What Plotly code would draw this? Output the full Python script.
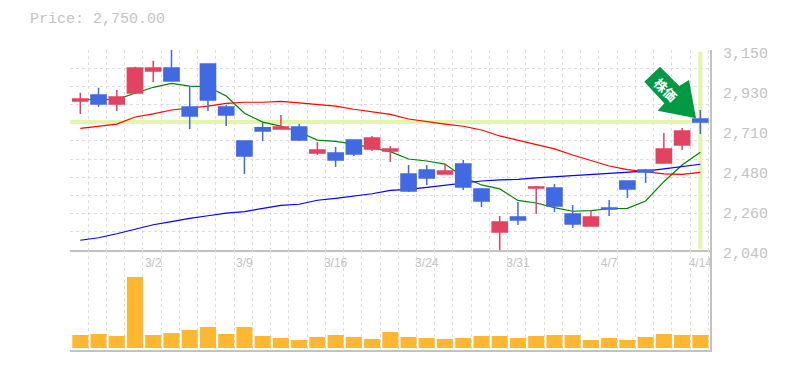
import plotly.graph_objects as go

dates = ["2/25","2/26","2/27","2/28","3/2","3/3","3/4","3/5","3/6","3/9","3/10","3/11","3/12","3/13","3/16",
         "3/17","3/18","3/19","3/23","3/24","3/25","3/26","3/27","3/30","3/31","4/1","4/2","4/3","4/6","4/7",
         "4/8","4/9","4/10","4/13","4/14"]
opens = [2867,2900,2850,2911,3033,3050,2834,3072,2834,2645,2719,2712,2723,2578,2578,2650,2600,2589,2462,2484,
         2462,2517,2379,2140,2223,2384,2384,2240,2173,2273,2423,2484,2523,2623,2767]
highs = [2913,2941,2928,3057,3091,3160,2950,3072,2845,2645,2745,2789,2739,2639,2612,2650,2673,2617,2512,2512,
         2517,2540,2384,2229,2306,2395,2406,2290,2262,2317,2423,2490,2689,2717,2817]
lows = [2795,2834,2811,2911,2972,2978,2712,2811,2728,2462,2645,2712,2645,2567,2501,2562,2589,2528,2362,2401,
        2462,2373,2279,2036,2179,2240,2251,2162,2173,2229,2329,2412,2523,2595,2684]
closes = [2878,2850,2889,3050,3050,2978,2784,2872,2789,2562,2700,2723,2650,2595,2540,2573,2662,2600,2367,2440,
          2478,2390,2312,2195,2206,2390,2284,2184,2223,2268,2379,2473,2600,2700,2750]
ma_short = [2874,2876,2876,2910,2943,2965,2950,2946,2895,2799,2750,2728,2695,2650,2643,2628,2608,2586,2545,2534,
            2517,2445,2401,2379,2315,2301,2275,2255,2258,2269,2271,2312,2419,2512,2582]
ma_mid = [2715,2728,2739,2778,2795,2817,2826,2839,2854,2860,2860,2865,2856,2849,2839,2821,2806,2793,2767,2752,
          2739,2727,2706,2673,2649,2623,2601,2567,2536,2506,2486,2473,2463,2460,2471]
ma_long = [2094,2108,2130,2155,2180,2197,2216,2230,2245,2253,2271,2288,2294,2316,2327,2341,2352,2371,2377,2388,
           2401,2410,2423,2429,2432,2440,2447,2452,2460,2466,2471,2478,2490,2505,2516]
volumes = [13,14,12,71,13,15,18,21,14,21,12,10,8,11,13,11,9,16,11,10,9,10,12,12,10,12,13,13,8,10,8,11,14,13,13]
label_text = ["2,040", "2,260", "2,480", "2,710", "2,930", "3,150"]
label_every = 5
price_min, price_max = 2040, 3150
grid_cells = 11
current_price = 2750.0

GRAY = "#c2c2c2"
GRID = "#dddddd"
UP = "#e34261"
DOWN = "#4169e1"
HILITE = "#e2f5a9"
ARROW = "#009944"
n = len(dates)
idx = list(range(n))
xrange_ = [-0.565, 34.53]

fig = go.Figure()
for vals, col in [(ma_short, "#008000"), (ma_mid, "#ff0000"), (ma_long, "#0000ff")]:
    fig.add_trace(go.Scatter(x=idx, y=vals, mode="lines", line=dict(color=col, width=1.2),
                             xaxis="x", yaxis="y", hoverinfo="skip"))
fig.add_trace(go.Candlestick(x=idx, open=opens, high=highs, low=lows, close=closes,
                             increasing=dict(line=dict(color=UP, width=1.5), fillcolor=UP),
                             decreasing=dict(line=dict(color=DOWN, width=1.5), fillcolor=DOWN),
                             whiskerwidth=0, xaxis="x3", yaxis="y3"))
fig.add_trace(go.Bar(x=idx, y=volumes, width=0.88, marker=dict(color="#ffb732", line=dict(width=0)),
                     xaxis="x2", yaxis="y2"))

def to_data(x, y):
    return (x - 70) / 640 * (xrange_[1] - xrange_[0]) + xrange_[0], price_max - (y - 50) / 200 * (price_max - price_min)

arrow_pts = [(644.3, 81.7), (660, 66.7), (679.3, 86), (689, 80), (696, 118.3), (657.7, 110.7), (664.3, 103.3)]
arrow_path = "M " + " L ".join("%.4f,%.2f" % to_data(*p) for p in arrow_pts) + " Z"

step = (price_max - price_min) / grid_cells
grid_vals = [price_min + i * step for i in range(grid_cells + 1)]
label_positions = [price_min + i * (price_max - price_min) / 5 for i in range(6)]

axis_line = dict(showline=True, linecolor=GRAY, linewidth=1.5)
xgrid = dict(tickmode="linear", tick0=xrange_[0], dtick=1, showgrid=True, gridcolor=GRID, griddash="3px,3px",
             gridwidth=1, showticklabels=False, ticks="", zeroline=False, range=xrange_, automargin=False)

fig.update_layout(
    width=785, height=370, autosize=False,
    margin=dict(l=70, r=75, t=50, b=20),
    paper_bgcolor="white", plot_bgcolor="white",
    showlegend=False, boxgap=0.17, boxgroupgap=0, bargap=0.1,
    xaxis=dict(domain=[0, 1], anchor="y", **xgrid, **axis_line),
    xaxis2=dict(domain=[0, 1], anchor="y2", **xgrid, **axis_line),
    xaxis3=dict(overlaying="x", anchor="y3", side="bottom", range=xrange_, showgrid=False, zeroline=False,
                tickmode="array", tickvals=idx[4::label_every], ticktext=dates[4::label_every],
                ticks="outside", ticklen=2, tickcolor="rgba(0,0,0,0)", automargin=False,
                tickfont=dict(family="Liberation Sans", size=12, color=GRAY),
                rangeslider=dict(visible=False), showline=False),
    yaxis=dict(domain=[1/3, 1], anchor="x", side="right", range=[price_min, price_max], tickmode="array",
               tickvals=grid_vals, ticktext=[""] * len(grid_vals), showgrid=True, gridcolor=GRID, automargin=False,
               griddash="3px,3px", gridwidth=1, ticks="", zeroline=False, **axis_line),
    yaxis2=dict(domain=[0, 1/3], anchor="x2", side="right", range=[-2, 98], showgrid=False, showticklabels=False,
                ticks="", zeroline=False, automargin=False, **axis_line),
    yaxis3=dict(domain=[1/3, 1], anchor="x3", overlaying="y", side="right", range=[price_min, price_max],
                showgrid=False, zeroline=False, showline=False, tickmode="array", automargin=False,
                tickvals=label_positions, ticktext=label_text, ticklabelshift=3,
                ticks="outside", ticklen=9, tickcolor="rgba(0,0,0,0)",
                tickfont=dict(family="Liberation Mono", size=15, color=GRAY)),
    shapes=[
        dict(type="line", xref="x", yref="y", x0=xrange_[0], x1=34.4, y0=current_price, y1=current_price,
             line=dict(color=HILITE, width=4), layer="between"),
        dict(type="line", xref="x", yref="y", x0=n - 1, x1=n - 1, y0=2045, y1=3140,
             line=dict(color=HILITE, width=4), layer="between"),
        dict(type="path", xref="x", yref="y", path=arrow_path, fillcolor=ARROW, line=dict(width=0), layer="above"),
    ],
    annotations=[
        dict(text="Price: 2,750.00", xref="paper", yref="paper", x=(28 - 70) / 640, y=(350 - 19) / 300, xanchor="left",
             yanchor="middle", showarrow=False, font=dict(family="Liberation Mono", size=15, color=GRAY)),
        dict(text="株価", xref="paper", yref="paper", x=(665.7 - 70) / 640, y=(350 - 89.3) / 300, textangle=45,
             xanchor="center", yanchor="middle", showarrow=False,
             font=dict(family="Noto Sans CJK JP", size=13, color="white", weight="bold")),
    ],
)
fig.write_html("out.html", config=dict(displayModeBar=False),
               post_script="document.body.style.margin='0';document.documentElement.style.overflow='hidden';")
